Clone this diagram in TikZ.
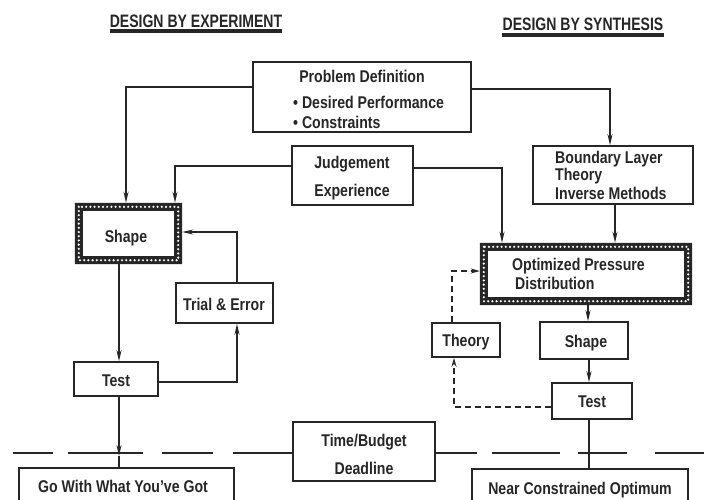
\documentclass[tikz,border=0pt]{standalone}
\usepackage{fontspec}
\setmainfont[FakeStretch=0.83]{Liberation Sans}
\newfontfamily\ttlfont[FakeStretch=0.78]{Liberation Sans}
\usetikzlibrary{arrows.meta,calc}
\definecolor{ink}{gray}{0.15}
\newcommand{\hatchframe}[1]{%
  \fill[ink, even odd rule] (#1.north west) rectangle (#1.south east)
    ([shift={(8,8)}]#1.north west) rectangle ([shift={(-8,-8)}]#1.south east);
  \draw[white, line width=2.4pt, line cap=round, dash pattern=on 0pt off 4.2pt]
    ([shift={(4,4)}]#1.north west) rectangle ([shift={(-4,-4)}]#1.south east);
}
\tikzset{
  box/.style={draw=ink, line width=1.6pt, inner sep=0pt, minimum width=#1},
  hbox/.style={draw=none, inner sep=0pt, minimum width=#1},
  txt/.style={inner sep=0pt, text height=12pt, text depth=0pt, text=ink,
              font=\bfseries\fontsize{17}{19}\selectfont},
  ttl/.style={inner sep=0pt, text height=13pt, text depth=0pt, text=ink,
              font=\ttlfont\bfseries\fontsize{18}{20}\selectfont},
  conn/.style={draw=ink, line width=1.6pt},
  arr/.style={conn, -{Stealth[length=11pt,width=5pt]}},
  dconn/.style={conn, dash pattern=on 6pt off 4pt},
  darr/.style={dconn, -{Stealth[length=9pt,width=5pt]}},
}
\begin{document}
\begin{tikzpicture}[x=1pt,y=-1pt]
\useasboundingbox (0,0) rectangle (704,499);
\clip (0,0) rectangle (704,499);

% titles
\node[ttl] (titleL) at (196,21) {DESIGN BY EXPERIMENT};
\draw[ink, line width=3.5pt] ([yshift=-3.5pt]titleL.south west) -- ([yshift=-3.5pt]titleL.south east);
\node[ttl] (titleR) at (583,24) {DESIGN BY SYNTHESIS};
\draw[ink, line width=4pt] ([yshift=-4pt]titleR.south west) -- ([yshift=-4pt]titleR.south east);

% boxes
\node[box=218pt, minimum height=70pt] (prob) at (362,97) {};
\node[txt] (probT) at (362,76) {Problem Definition};
\node[txt, anchor=west] (probA) at (293,102) {• Desired Performance};
\node[txt, anchor=west] (probB) at (293,122) {• Constraints};

\node[box=121pt, minimum height=59pt] (judge) at (352.5,175.5) {};
\node[txt] (judgeA) at (352,162) {Judgement};
\node[txt] (judgeB) at (352,190) {Experience};

\node[box=160pt, minimum height=58pt] (bl) at (613,175) {};
\node[txt, anchor=west] (blA) at (555,157) {Boundary Layer};
\node[txt, anchor=west] (blB) at (555,174) {Theory};
\node[txt, anchor=west] (blC) at (555,193) {Inverse Methods};

\node[hbox=107pt, minimum height=61pt] (shapeL) at (128.5,233.5) {};
\hatchframe{shapeL}
\node[txt] (shapeLT) at (126,236) {Shape};

\node[hbox=212pt, minimum height=62pt] (opt) at (586,274) {};
\hatchframe{opt}
\node[txt, anchor=west] (optA) at (512,264) {Optimized Pressure};
\node[txt, anchor=west] (optB) at (515,283) {Distribution};

\node[box=97pt, minimum height=40pt] (trial) at (224.5,303) {};
\node[txt] (trialT) at (224,304) {Trial \& Error};

\node[box=84pt, minimum height=34pt] (testL) at (116,379) {};
\node[txt] (testLT) at (116,380) {Test};

\node[box=68pt, minimum height=34pt] (theory) at (466,340) {};
\node[txt] (theoryT) at (466,340) {Theory};

\node[box=88pt, minimum height=37pt] (shapeR) at (584,340.5) {};
\node[txt] (shapeRT) at (586,341) {Shape};

\node[box=80pt, minimum height=36pt] (testR) at (592,401) {};
\node[txt] (testRT) at (592,401) {Test};

\node[box=142pt, minimum height=59pt] (time) at (364,451.5) {};
\node[txt] (timeA) at (364,440) {Time/Budget};
\node[txt] (timeB) at (364,468) {Deadline};

\node[box=215pt, minimum height=52pt] (goL) at (126.5,494) {};
\node[txt] (goLT) at (123,486) {Go With What You've Got};

\node[box=216pt, minimum height=51pt] (near) at (580,494.5) {};
\node[txt] (nearT) at (580,488) {Near Constrained Optimum};

% deadline separator
\foreach \a/\b in {13/53, 68/143, 162/213, 233/293, 435/477, 492/560, 578/627, 655/704}
  \draw[ink, line width=1.5pt] (\a,453) -- (\b,453);

% connectors
\draw[arr] ([yshift=10pt]prob.west) -| ([xshift=-2.5pt]shapeL.north);
\draw[arr] ([yshift=8pt]prob.east) -| ([xshift=-3pt]bl.north);
\draw[arr] ([yshift=9.5pt]judge.west) -| ([xshift=46.5pt]shapeL.north);
\draw[arr] ([yshift=7.5pt]judge.east) -| ([xshift=-84pt]opt.north);
\draw[arr] ([xshift=2pt]bl.south) -- ([xshift=2pt]bl.south |- opt.north);
\draw[arr] ([xshift=12.5pt]trial.north) |- ([yshift=1.5pt]shapeL.east);
\draw[arr] ([yshift=-3pt]testL.east) -| ([xshift=12.5pt]trial.south);
\draw[arr] ([xshift=-9.5pt]shapeL.south) -- ([xshift=-9.5pt]shapeL.south |- testL.north);
\coordinate (cL) at (119,456);
\draw[arr] (cL |- testL.south) -- (cL);
\draw[conn] (cL) -- (cL |- goL.north);
\draw[arr] ([xshift=2pt]opt.south) -- ([xshift=2pt]opt.south |- shapeR.north);
\draw[arr] ([xshift=-3pt]testR.north |- shapeR.south) -- ([xshift=-3pt]testR.north);
\draw[conn] ([xshift=-3pt]testR.south) -- ([xshift=-3pt]testR.south |- near.north);
\draw[darr] ([yshift=-6pt]testR.west) -| ([xshift=-12pt]theory.south);
\draw[darr] ([xshift=-14pt]theory.north) |- ([yshift=3pt]opt.west);
\end{tikzpicture}
\end{document}
